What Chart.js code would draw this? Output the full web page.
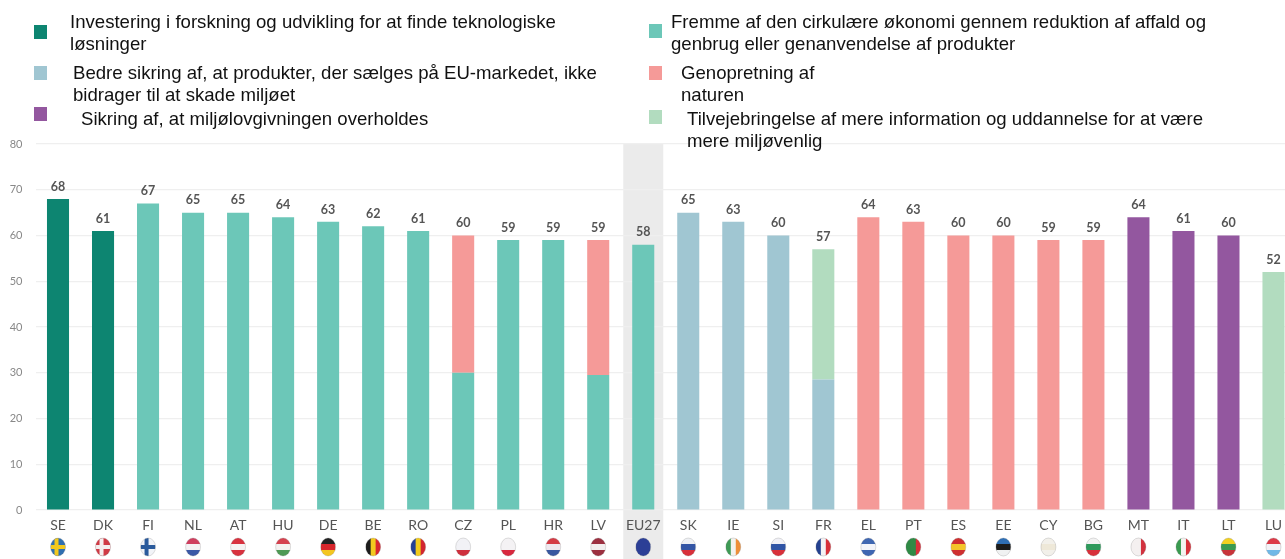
<!DOCTYPE html>
<html><head><meta charset="utf-8">
<style>
html,body{margin:0;padding:0;background:#fff;width:1285px;height:559px;overflow:hidden}
#wrap{position:relative;width:1285px;height:559px;overflow:hidden}
canvas{position:absolute;left:0;top:0;filter:blur(.45px)}
.t{position:absolute;font:18.6px/22px "Liberation Sans",Arial,sans-serif;color:#111;white-space:pre;z-index:2}
.s{position:absolute;width:13px;height:14px;z-index:2;filter:blur(.6px)}
</style>
<script src="https://cdn.jsdelivr.net/npm/chart.js@4"></script>
</head><body><div id="wrap"><canvas id="c" width="1296" height="559"></canvas></div>
<script>
const categories=["SE","DK","FI","NL","AT","HU","DE","BE","RO","CZ","PL","HR","LV","EU27","SK","IE","SI","FR","EL","PT","ES","EE","CY","BG","MT","IT","LT","LU"];
const totals=[68,61,67,65,65,64,63,62,61,60,59,59,59,58,65,63,60,57,64,63,60,60,59,59,64,61,60,52];
const research=[68,61,0,0,0,0,0,0,0,0,0,0,0,0,0,0,0,0,0,0,0,0,0,0,0,0,0,0];
const circular=[0,0,67,65,65,64,63,62,61,30,59,59,29.5,58,0,0,0,0,0,0,0,0,0,0,0,0,0,0];
const safety=[0,0,0,0,0,0,0,0,0,0,0,0,0,0,65,63,60,28.5,0,0,0,0,0,0,0,0,0,0];
const nature=[0,0,0,0,0,0,0,0,0,30,0,0,29.5,0,0,0,0,0,64,63,60,60,59,59,0,0,0,0];
const enforcement=[0,0,0,0,0,0,0,0,0,0,0,0,0,0,0,0,0,0,0,0,0,0,0,0,64,61,60,0];
const information=[0,0,0,0,0,0,0,0,0,0,0,0,0,0,0,0,0,28.5,0,0,0,0,0,0,0,0,0,52];
const colors={research:"#0d8571",circular:"#6cc7b8",safety:"#a0c6d2",nature:"#f59a98",enforcement:"#93579f",information:"#b2dcbf"};
const legendItems=[
 ["Investering i forskning og udvikling for at finde teknologiske\nløsninger",colors.research,34,25,70,11],
 ["Fremme af den cirkulære økonomi gennem reduktion af affald og\ngenbrug eller genanvendelse af produkter",colors.circular,649,24,671,11],
 ["Bedre sikring af, at produkter, der sælges på EU-markedet, ikke\nbidrager til at skade miljøet",colors.safety,34,66,73,62],
 ["Genopretning af\nnaturen",colors.nature,649,66,681,62],
 ["Sikring af, at miljølovgivningen overholdes",colors.enforcement,34,107,81,108],
 ["Tilvejebringelse af mere information og uddannelse for at være\nmere miljøvenlig",colors.information,649,110,687,108]];
// flags: [layout, colours...]  h = horizontal bands, v = vertical bands, x = cross
const flags=[["x","#2f6fb0","#f2c81e"],["x","#d03a45","#f4eeee"],["x","#f2f4f8","#2a5a9c"],["h","#cf3f5f","#f4f2f4","#3b59a6"],["h","#d8323f","#f6f2f2","#d8323f"],["h","#d5424f","#f4f2f0","#4f9a55"],["h","#222222","#d8262c","#f4c620"],["v","#1c1c1c","#f2c91f","#d8262f"],["v","#233f94","#f2cb1b","#d3252f"],["h","#f2f2f6","#f2f2f6","#cf2f3d"],["h","#f4f2f4","#f4f2f4","#d8283e"],["h","#d43b45","#eee8ee","#3858a0"],["h","#9c3040","#f2eeee","#9c3040"],["h","#2c3f96","#2c3f96","#2c3f96"],["h","#eef0f4","#3355a5","#d8303a"],["v","#3f9a55","#f4f2ee","#ef8f38"],["h","#f0f0f6","#2f54a5","#d8303a"],["v","#24418f","#f4f2f4","#d82f38"],["h","#3f67b2","#f2f4fa","#3f67b2"],["v","#2f8a45","#2f8a45","#d8303a"],["h","#cf2f30","#f4c52a","#cf2f30"],["h","#2f6fb5","#1c1c1c","#f0f2f2"],["h","#f2f0ea","#eee8d8","#f2f0ea"],["h","#f2f2f2","#2f9a5c","#d8303a"],["v","#f4f0f0","#f4f0f0","#d3323f"],["v","#3a9a50","#f4f2f0","#d8303a"],["h","#f2d020","#3a9a50","#c8343a"],["h","#dc3a48","#f2f2f6","#70b8e6"]];
const EU_INDEX=categories.indexOf("EU27");

const wrap=document.getElementById("wrap");
legendItems.forEach(([txt,col,sx,sy,tx,ty])=>{
 const s=document.createElement("div");s.className="s";s.style.cssText=`left:${sx}px;top:${sy}px;background:${col}`;wrap.appendChild(s);
 const t=document.createElement("div");t.className="t";t.style.left=tx+"px";t.style.top=ty+"px";t.textContent=txt;wrap.appendChild(t);
});

const band={id:"band",beforeDraw(ch){
 const x=ch.scales.x.getPixelForValue(EU_INDEX),c=ch.ctx;
 c.save();c.fillStyle="#ebebeb";c.fillRect(x-20,ch.chartArea.top,40,ch.height-ch.chartArea.top);c.restore();
}};
const overlay={id:"overlay",afterDatasetsDraw(ch){
 const c=ch.ctx,xs=ch.scales.x,ys=ch.scales.y;
 c.save();c.textAlign="center";c.textBaseline="bottom";c.font='bold 12.5px Lato';c.fillStyle="#555";
 totals.forEach((v,i)=>c.fillText(v,xs.getPixelForValue(i),ys.getPixelForValue(v)-6));
 flags.forEach((f,i)=>{
  const x=xs.getPixelForValue(i),y=547,rx=7.5,ry=9;
  c.save();c.beginPath();c.ellipse(x,y,rx,ry,0,0,Math.PI*2);c.clip();
  const [k,a,b,d]=f;
  if(k==="x"){c.fillStyle=a;c.fillRect(x-rx,y-ry,2*rx,2*ry);c.fillStyle=b;c.fillRect(x-rx,y-2,2*rx,4);c.fillRect(x-3.5,y-ry,4,2*ry);}
  else if(k==="h"){[a,b,d].forEach((col,n)=>{c.fillStyle=col;c.fillRect(x-rx,y-ry+n*2*ry/3,2*rx,2*ry/3+.5);});}
  else{[a,b,d].forEach((col,n)=>{c.fillStyle=col;c.fillRect(x-rx+n*2*rx/3,y-ry,2*rx/3+.5,2*ry);});}
  c.restore();
  c.beginPath();c.ellipse(x,y,rx,ry,0,0,Math.PI*2);c.strokeStyle="rgba(120,120,120,.35)";c.lineWidth=.7;c.stroke();
 });
 c.restore();
}};
const mk=(data,color)=>({data,backgroundColor:color,borderWidth:0,stack:"a",categoryPercentage:1,barPercentage:.49});
Chart.defaults.animation=false;
new Chart(document.getElementById("c"),{type:"bar",
 data:{labels:categories,datasets:[mk(research,colors.research),mk(circular,colors.circular),mk(safety,colors.safety),mk(nature,colors.nature),mk(enforcement,colors.enforcement),mk(information,colors.information)]},
 options:{responsive:false,animation:false,
  layout:{padding:{top:144,left:0,right:0,bottom:0}},
  plugins:{legend:{display:false},tooltip:{enabled:false}},
  scales:{
   x:{stacked:true,grid:{display:false},border:{display:false},
      ticks:{padding:-1,maxRotation:0,autoSkip:false,color:"#555",font:{family:"Lato",size:14}},
      afterFit(s){s.height=49;}},
   y:{stacked:true,min:0,max:80,grid:{color:"#efefef",drawTicks:false,lineWidth:1.2},border:{display:false},
      ticks:{stepSize:10,padding:13,color:"#888",font:{family:"Lato",size:11}},
      afterFit(s){s.width=35.5;}}
  }},
 plugins:[band,overlay]});
</script></body></html>
